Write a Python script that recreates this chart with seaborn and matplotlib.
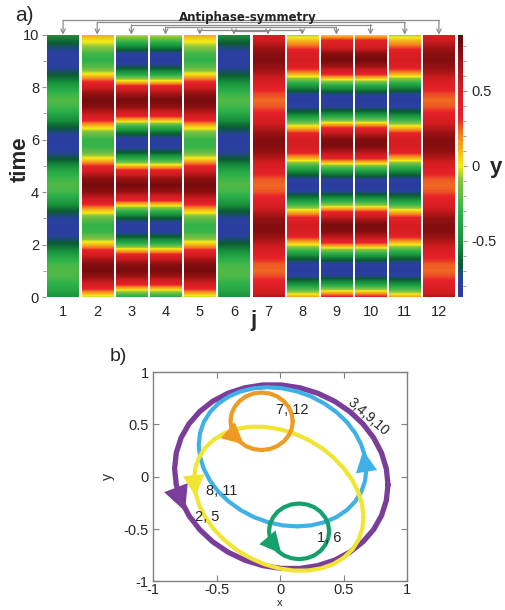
import numpy as np
import pandas as pd
import seaborn as sns
import matplotlib.pyplot as plt
from matplotlib.colors import LinearSegmentedColormap, Normalize
from matplotlib.cm import ScalarMappable

sns.set_style("ticks")
plt.rcParams["font.family"] = ["Liberation Sans", "DejaVu Sans"]

# panel a): y(t) of each oscillator, read every 0.25 time units
time = np.arange(0, 10.001, 0.25)

y_1_6 = [-0.48, -0.38, -0.30, -0.24, -0.22, -0.25, -0.35, -0.50, -0.63, -0.74, -0.80,
         -0.80, -0.76, -0.66, -0.50, -0.36, -0.26, -0.22, -0.26, -0.36, -0.50, -0.66,
         -0.76, -0.80, -0.80, -0.74, -0.63, -0.48, -0.35, -0.25, -0.22, -0.28, -0.40,
         -0.55, -0.68, -0.77, -0.80, -0.79, -0.72, -0.60, -0.47]
y_2_5 = [-0.05, 0.25, 0.51, 0.71, 0.80, 0.76, 0.60, 0.36, 0.09, -0.14, -0.28,
         -0.29, -0.18, 0.04, 0.30, 0.56, 0.74, 0.80, 0.74, 0.56, 0.30, 0.04,
         -0.18, -0.29, -0.28, -0.14, 0.09, 0.36, 0.60, 0.76, 0.80, 0.71, 0.51,
         0.25, -0.01, -0.21, -0.30, -0.26, -0.10, 0.02, 0.15]
y_3_4 = [-0.35, -0.02, 0.37, 0.66, 0.80, 0.74, 0.50, 0.14, -0.26, -0.60, -0.80,
         -0.82, -0.65, -0.33, 0.06, 0.44, 0.70, 0.80, 0.70, 0.44, 0.06, -0.33,
         -0.65, -0.82, -0.80, -0.60, -0.26, 0.14, 0.50, 0.74, 0.80, 0.66, 0.37,
         -0.02, -0.41, -0.70, -0.84, -0.78, -0.54, -0.25, 0.02]
y_7_12 = [0.63, 0.50, 0.37, 0.28, 0.23, 0.25, 0.33, 0.45, 0.58, 0.69, 0.76,
          0.76, 0.71, 0.60, 0.47, 0.35, 0.26, 0.23, 0.26, 0.35, 0.47, 0.60,
          0.71, 0.76, 0.76, 0.69, 0.58, 0.45, 0.33, 0.25, 0.23, 0.28, 0.37,
          0.50, 0.63, 0.72, 0.77, 0.75, 0.67, 0.55, 0.42]
y_8_11 = [0.15, -0.17, -0.49, -0.73, -0.84, -0.79, -0.60, -0.30, 0.02, 0.30, 0.47,
          0.49, 0.35, 0.09, -0.24, -0.54, -0.76, -0.84, -0.76, -0.54, -0.24, 0.09,
          0.35, 0.49, 0.47, 0.30, 0.02, -0.30, -0.60, -0.79, -0.84, -0.73, -0.49,
          -0.17, 0.15, 0.39, 0.50, 0.45, 0.26, 0.10, -0.10]
y_9_10 = [0.37, -0.02, -0.41, -0.71, -0.85, -0.79, -0.55, -0.18, 0.22, 0.57, 0.77,
          0.79, 0.62, 0.30, -0.10, -0.48, -0.75, -0.85, -0.75, -0.48, -0.10, 0.30,
          0.62, 0.79, 0.77, 0.57, 0.22, -0.18, -0.55, -0.79, -0.85, -0.71, -0.41,
          -0.02, 0.37, 0.67, 0.81, 0.75, 0.51, 0.35, 0.00]

df = pd.DataFrame({1: y_1_6, 2: y_2_5, 3: y_3_4, 4: y_3_4, 5: y_2_5, 6: y_1_6,
                   7: y_7_12, 8: y_8_11, 9: y_9_10, 10: y_9_10, 11: y_8_11, 12: y_7_12},
                  index=time)

# panel b): limit cycles in the (x, y) plane, points read counter-clockwise
purple_x = [0.85, 0.837, 0.799, 0.737, 0.653, 0.550, 0.43, 0.297, 0.156, 0.01,
            -0.136, -0.277, -0.41, -0.530, -0.633, -0.717, -0.779, -0.817, -0.83,
            -0.817, -0.779, -0.717, -0.633, -0.530, -0.41, -0.277, -0.136, 0.01,
            0.156, 0.297, 0.43, 0.550, 0.653, 0.737, 0.799, 0.837]
purple_y = [-0.077, 0.077, 0.228, 0.372, 0.505, 0.622, 0.721, 0.798, 0.850, 0.877,
            0.877, 0.850, 0.798, 0.721, 0.622, 0.505, 0.372, 0.228, 0.077,
            -0.077, -0.228, -0.372, -0.505, -0.622, -0.721, -0.798, -0.850, -0.877,
            -0.877, -0.850, -0.798, -0.721, -0.622, -0.505, -0.372, -0.228]
blue_x = [0.68, 0.67, 0.64, 0.592, 0.526, 0.444, 0.35, 0.246, 0.135, 0.02,
          -0.095, -0.206, -0.31, -0.404, -0.486, -0.552, -0.60, -0.63, -0.64,
          -0.63, -0.60, -0.552, -0.486, -0.404, -0.31, -0.206, -0.095, 0.02,
          0.135, 0.246, 0.35, 0.444, 0.526, 0.592, 0.64, 0.67]
blue_y = [0.075, 0.19, 0.305, 0.417, 0.523, 0.617, 0.699, 0.766, 0.815, 0.845,
          0.855, 0.845, 0.815, 0.766, 0.699, 0.617, 0.523, 0.417, 0.305,
          0.19, 0.075, -0.037, -0.143, -0.237, -0.319, -0.386, -0.435, -0.465,
          -0.475, -0.465, -0.435, -0.386, -0.319, -0.237, -0.143, -0.037]
yellow_x = [0.657, 0.647, 0.617, 0.568, 0.501, 0.419, 0.324, 0.218, 0.106, -0.01,
            -0.126, -0.238, -0.344, -0.439, -0.521, -0.588, -0.637, -0.667, -0.677,
            -0.667, -0.637, -0.588, -0.521, -0.439, -0.344, -0.238, -0.126, -0.01,
            0.106, 0.218, 0.324, 0.419, 0.501, 0.568, 0.617, 0.647]
yellow_y = [-0.389, -0.270, -0.150, -0.031, 0.082, 0.186, 0.278, 0.355, 0.415, 0.456,
            0.477, 0.477, 0.456, 0.415, 0.355, 0.278, 0.186, 0.082, -0.031,
            -0.150, -0.270, -0.389, -0.502, -0.606, -0.698, -0.775, -0.835, -0.876,
            -0.897, -0.897, -0.876, -0.835, -0.775, -0.698, -0.606, -0.502]
orange_x = [0.100, 0.092, 0.067, 0.028, -0.023, -0.082, -0.145, -0.208, -0.268, -0.318,
            -0.357, -0.382, -0.390, -0.382, -0.357, -0.318, -0.268, -0.208, -0.145,
            -0.082, -0.023, 0.028, 0.067, 0.092]
orange_y = [0.530, 0.601, 0.668, 0.724, 0.768, 0.796, 0.805, 0.796, 0.768, 0.724,
            0.668, 0.601, 0.530, 0.459, 0.392, 0.336, 0.292, 0.264, 0.255,
            0.264, 0.292, 0.336, 0.392, 0.459]
green_x = [0.387, 0.379, 0.355, 0.318, 0.269, 0.211, 0.150, 0.089, 0.032, -0.018,
           -0.055, -0.079, -0.087, -0.079, -0.055, -0.018, 0.032, 0.089, 0.150,
           0.211, 0.269, 0.318, 0.355, 0.379]
green_y = [-0.522, -0.453, -0.389, -0.334, -0.291, -0.265, -0.256, -0.265, -0.291, -0.334,
           -0.389, -0.453, -0.522, -0.591, -0.655, -0.710, -0.753, -0.779, -0.788,
           -0.779, -0.753, -0.710, -0.655, -0.591]

cmap = LinearSegmentedColormap.from_list("ycmap", [
    (0.000, "#2b3b9f"), (0.060, "#2a41a0"), (0.123, "#0b5a34"), (0.214, "#17903c"),
    (0.329, "#2fb24a"), (0.450, "#8dc640"), (0.500, "#f6ec16"), (0.614, "#f48420"),
    (0.683, "#e8222a"), (0.814, "#cf1c1f"), (1.000, "#5e0707")])
norm = Normalize(vmin=-0.875, vmax=0.875)

fig = plt.figure(figsize=(5.05, 6.10), dpi=100)

# ---- a) space-time plot
ax1 = fig.add_axes([0.091, 0.513, 0.812, 0.430])
gap = 0.045
for j in df.columns:
    ax1.imshow(df[j].to_numpy()[:, None], cmap=cmap, norm=norm, origin="lower",
               aspect="auto", interpolation="bilinear", interpolation_stage="data",
               extent=(j - 0.5 + gap, j + 0.5 - gap, -0.125, 10.125))
ax1.set_xlim(0.5, 12.5)
ax1.set_ylim(0, 10)
ax1.set_xticks(df.columns)
ax1.set_xticklabels([str(j) for j in df.columns], fontsize=10.5)
ax1.set_yticks([0, 2, 4, 6, 8, 10])
ax1.set_yticks([1, 3, 5, 7, 9], minor=True)
ax1.tick_params(axis="y", labelsize=10.5, length=3, color="#909090", pad=2)
ax1.tick_params(axis="y", which="minor", length=2, color="#909090")
ax1.tick_params(axis="x", length=0, pad=6)
for s in ax1.spines.values():
    s.set_visible(False)

# antiphase brackets j <-> 13-j
levels = [10.55, 10.47, 10.38, 10.29, 10.19, 10.13]
for k, lev in zip(range(1, 7), levels):
    ax1.plot([k, 13 - k], [lev, lev], color="#8c8c8c", lw=0.9, clip_on=False)
    for j in (k, 13 - k):
        ax1.annotate("", xy=(j, 10.0), xytext=(j, lev), annotation_clip=False,
                     arrowprops=dict(arrowstyle="->", color="#8c8c8c", lw=0.9,
                                     shrinkA=0, shrinkB=0, mutation_scale=8))
fig.text(0.49, 0.972, "Antiphase-symmetry", ha="center", va="center",
         fontsize=8.5, fontweight="bold", family="DejaVu Sans", color="#222222")

cax = fig.add_axes([0.906, 0.513, 0.011, 0.430])
cb = fig.colorbar(ScalarMappable(norm=norm, cmap=cmap), cax=cax)
cb.outline.set_visible(False)
cb.set_ticks([-0.5, 0, 0.5])
cb.set_ticklabels(["-0.5", "0", "0.5"])
cax.set_yticks(np.arange(-0.8, 0.81, 0.1), minor=True)
cax.tick_params(labelsize=10.5, length=3, color="#909090", pad=3)
cax.tick_params(which="minor", length=2, color="#909090")

fig.text(0.04, 0.739, "time", rotation=90, ha="center", va="center",
         fontsize=16, fontweight="bold")
fig.text(0.501, 0.474, "j", ha="center", va="center", fontsize=16, fontweight="bold")
fig.text(0.982, 0.726, "y", ha="center", va="center", fontsize=16, fontweight="bold")
fig.text(0.03, 0.974, "a)", ha="left", va="center", fontsize=15)

# ---- b) phase portrait
ax2 = fig.add_axes([0.303, 0.047, 0.503, 0.343])
loops = [(purple_x, purple_y, "#7a3d9a", 3.8),
         (blue_x, blue_y, "#3fb1e6", 3.0),
         (yellow_x, yellow_y, "#f0e532", 3.0),
         (orange_x, orange_y, "#ee9a23", 3.0),
         (green_x, green_y, "#15a06c", 3.0)]
for lx, ly, col, lw in loops:
    sns.lineplot(x=lx + lx[:1], y=ly + ly[:1], sort=False, estimator=None, ax=ax2,
                 color=col, lw=lw, solid_joinstyle="round", solid_capstyle="round")

arrows = [((-0.805, -0.15), (-0.748, -0.33), "#7a3d9a", 26),
          ((0.682, 0.04), (0.655, 0.25), "#3fb1e6", 22),
          ((-0.68, 0.0), (-0.664, -0.19), "#f0e532", 22),
          ((-0.375, 0.405), (-0.285, 0.31), "#ee9a23", 22),
          ((-0.085, -0.60), (0.01, -0.735), "#15a06c", 22)]
for start, tip, col, ms in arrows:
    ax2.annotate("", xy=tip, xytext=start,
                 arrowprops=dict(arrowstyle="-|>,head_length=0.7,head_width=0.35",
                                 color=col, lw=0, shrinkA=0, shrinkB=0,
                                 mutation_scale=ms))

ax2.text(-0.03, 0.64, "7, 12", fontsize=10.5, va="center")
ax2.text(0.69, 0.575, "3,4,9,10", fontsize=10, va="center", ha="center", rotation=-41)
ax2.text(-0.58, -0.14, "8, 11", fontsize=10.5, va="center")
ax2.text(-0.67, -0.385, "2, 5", fontsize=10.5, va="center")
ax2.text(0.29, -0.59, "1, 6", fontsize=10.5, va="center")

ax2.set_xlim(-1, 1)
ax2.set_ylim(-1, 1)
ticks = [-1, -0.5, 0, 0.5, 1]
labels = ["-1", "-0.5", "0", "0.5", "1"]
ax2.set_xticks(ticks)
ax2.set_xticklabels(labels)
ax2.set_yticks(ticks)
ax2.set_yticklabels(labels)
ax2.tick_params(direction="in", top=True, right=True, length=4, color="#808080",
                labelsize=10.5, pad=3)
ax2.tick_params(axis="x", pad=1)
for s in ax2.spines.values():
    s.set_color("#808080")
    s.set_linewidth(1.0)
ax2.set_xlabel("x", fontsize=8)
ax2.xaxis.set_label_coords(0.5, -0.08)
ax2.set_ylabel("y", fontsize=10, labelpad=6)
fig.text(0.234, 0.415, "b)", ha="center", va="center", fontsize=14)

fig.savefig("out.png", dpi=100)
